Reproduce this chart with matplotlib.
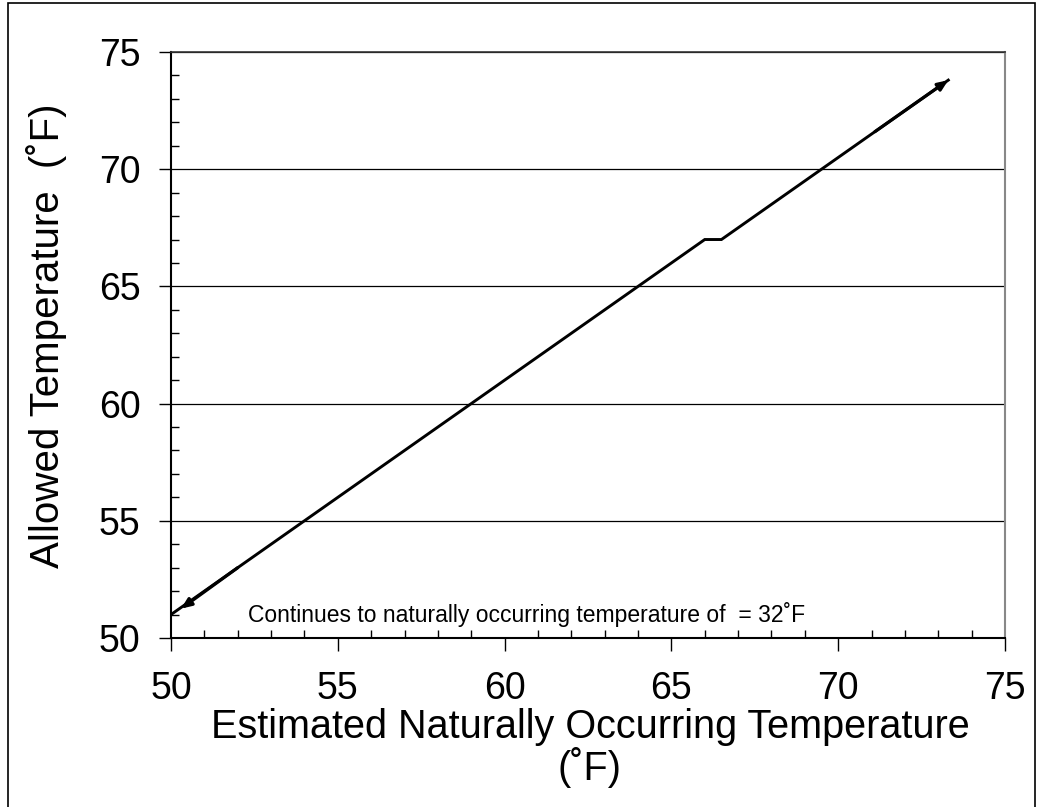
import matplotlib
matplotlib.use('Agg')
import matplotlib.pyplot as plt
from matplotlib.patches import Rectangle
from matplotlib.ticker import MultipleLocator

plt.rcParams['font.family'] = ['Liberation Sans', 'DejaVu Sans']

# allowed temperature vs naturally occurring temperature
x_nat = [50, 66, 66.5, 73.3]
y_allow = [51, 67, 67, 73.8]

# arrow ends (tail, head)
arrow_lo = [(52, 53), (50.3, 51.25)]
arrow_hi = [(71.1, 71.6), (73.3, 73.8)]

fig = plt.figure(figsize=(10.37, 8.07), dpi=100)
ax = fig.add_axes([171/1037, 1-638/807, (1005-171)/1037, (638-52)/807])

ax.plot(x_nat, y_allow, color='black', lw=2.1, solid_joinstyle='miter', zorder=4)
for (t, h) in (arrow_lo, arrow_hi):
    ax.annotate('', xy=h, xytext=t,
                arrowprops=dict(arrowstyle='-|>,head_length=0.6,head_width=0.25',
                                color='black', lw=2.3, shrinkA=0, shrinkB=0), zorder=5)

ax.set_xlim(50, 75)
ax.set_ylim(50, 75)
ax.xaxis.set_major_locator(MultipleLocator(5))
ax.yaxis.set_major_locator(MultipleLocator(5))
ax.xaxis.set_minor_locator(MultipleLocator(1))
ax.yaxis.set_minor_locator(MultipleLocator(1))
ax.tick_params(which='major', direction='out', length=9, width=1, labelsize=27, color='black')
ax.tick_params(axis='x', which='major', pad=15)
ax.tick_params(axis='y', which='major', pad=13)
ax.tick_params(which='minor', direction='in', length=6, width=1, color='black')

ax.grid(axis='y', which='major', color='black', lw=0.9)
ax.set_axisbelow(True)
for s in ['left', 'bottom']:
    ax.spines[s].set_color('black')
    ax.spines[s].set_linewidth(1.5)
ax.spines['top'].set_color('#333333')
ax.spines['top'].set_linewidth(1.2)
ax.spines['right'].set_color('#888888')
ax.spines['right'].set_linewidth(1.5)

ax.text(52.3, 50.45, 'Continues to naturally occurring temperature of  = 32˚F',
        fontsize=16.5, ha='left', va='bottom')

ax.set_ylabel('Allowed Temperature  (˚F)', fontsize=29)
ax.yaxis.set_label_coords(-0.125, 0.515)
fig.text(590/1037, 1-748/807, 'Estimated Naturally Occurring Temperature\n(˚F)',
         fontsize=28.5, ha='center', va='center', linespacing=1.0)

fig.patches.append(Rectangle((8/1037, -0.01), (1035-8)/1037, 1.01-3/807,
                             transform=fig.transFigure, fill=False,
                             edgecolor='black', lw=1.2))

fig.savefig('out.png', dpi=100)
